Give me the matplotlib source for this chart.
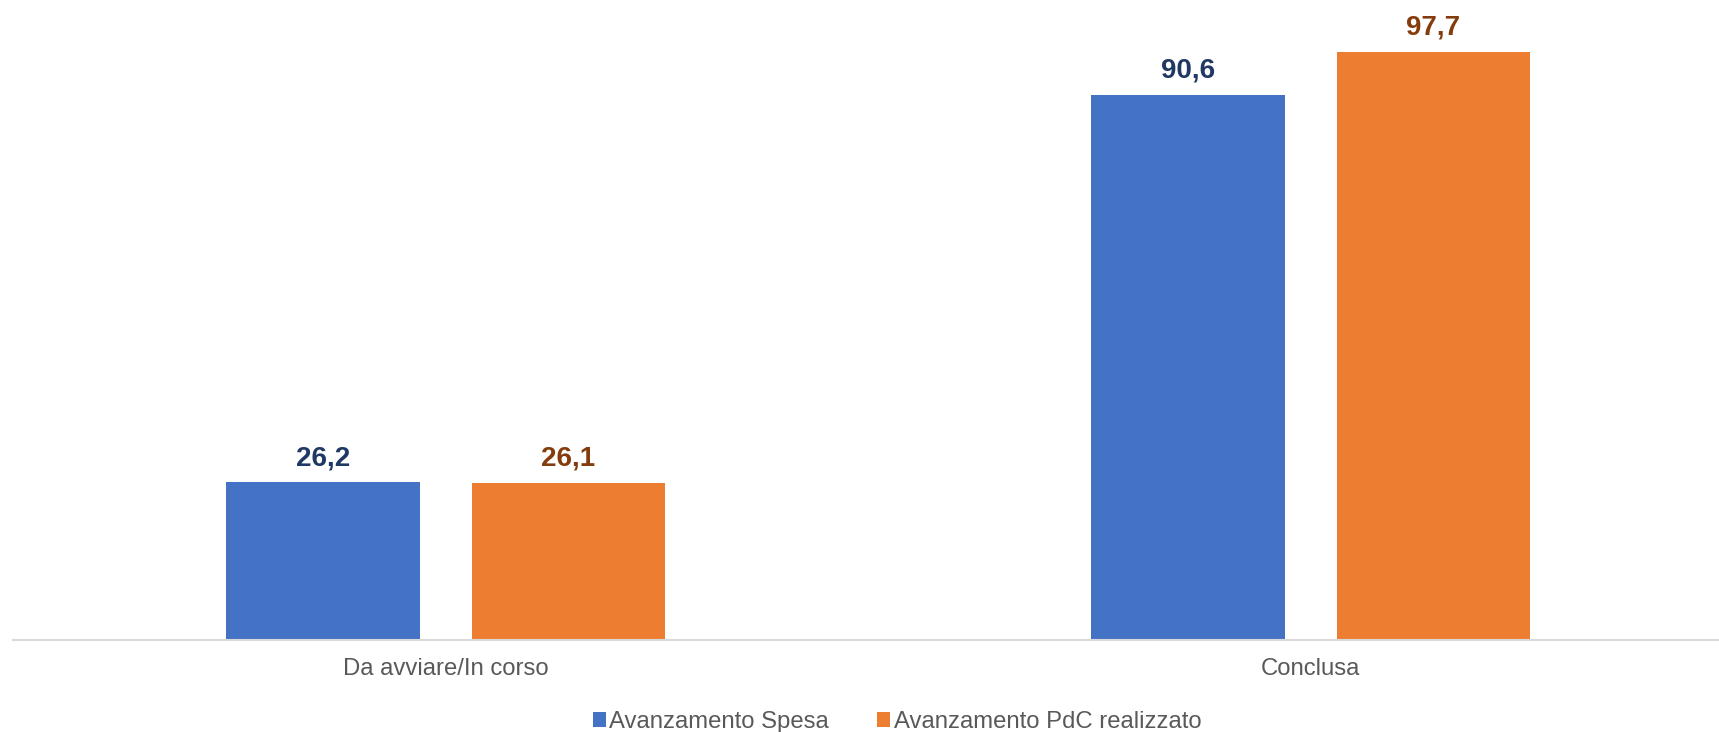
import matplotlib
matplotlib.use("Agg")
import matplotlib.pyplot as plt
from matplotlib.patches import Patch
import numpy as np

categories = ["Da avviare/In corso", "Conclusa"]
series_names = ["Avanzamento Spesa", "Avanzamento PdC realizzato"]
spesa = [26.2, 90.6]
pdc = [26.1, 97.7]
bar_colors = ["#4472C4", "#ED7D31"]
label_colors = ["#203864", "#843C0C"]

plt.rcParams['font.family'] = ['Liberation Sans', 'DejaVu Sans']

W, H = 1719, 732
fig = plt.figure(figsize=(W / 100, H / 100), dpi=100)
ax = fig.add_axes([13 / W, 92 / H, (W - 13) / W, 602 / H])

x = np.arange(len(categories))
width = 0.224
offset = 0.142
for vals, off, col, lcol in [(spesa, -offset, bar_colors[0], label_colors[0]),
                             (pdc, offset, bar_colors[1], label_colors[1])]:
    bars = ax.bar(x + off, vals, width=width, color=col, zorder=2)
    for b, v in zip(bars, vals):
        ax.annotate(f"{v:.1f}".replace(".", ","),
                    (b.get_x() + b.get_width() / 2, v),
                    xytext=(0, 8), textcoords="offset points",
                    ha="center", va="bottom", fontsize=20,
                    fontweight="bold", color=lcol)

ax.set_xlim(-0.5, 1.472)
ax.set_ylim(0, 100)
ax.set_yticks([])
ax.set_xticks(x)
ax.set_xticklabels(categories, fontsize=17.2, color="#595959")
ax.tick_params(axis="x", length=0, pad=13)
for s in ["top", "right", "left"]:
    ax.spines[s].set_visible(False)
ax.spines["bottom"].set_color("#D9D9D9")
ax.spines["bottom"].set_linewidth(1.5)

handles = [Patch(facecolor=c, edgecolor="none") for c in bar_colors]
leg = fig.legend(handles, series_names, loc="center", bbox_to_anchor=(897 / W, 1 - 722 / H),
                 ncol=2, frameon=False, fontsize=17.2, handlelength=0.55, handleheight=0.55,
                 handletextpad=0.15, columnspacing=2.0)
for t in leg.get_texts():
    t.set_color("#595959")

fig.savefig("out.png", dpi=100)
